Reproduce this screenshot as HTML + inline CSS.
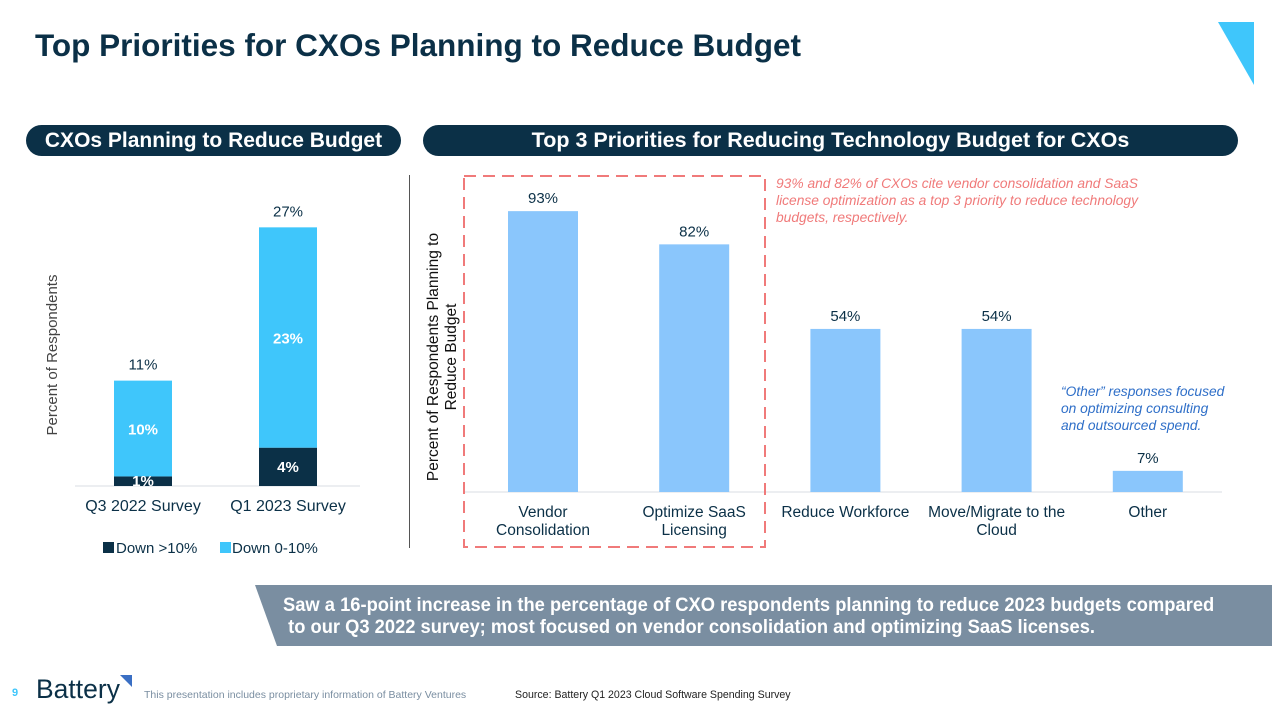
<!DOCTYPE html>
<html><head><meta charset="utf-8"><style>
body{margin:0;width:1272px;height:715px;background:#fff;font-family:"Liberation Sans",sans-serif;overflow:hidden;position:relative}
.abs{position:absolute}
.pill{position:absolute;background:#0b3047;color:#fff;font-weight:bold;font-size:21px;border-radius:16px;text-align:center;line-height:31px;height:31px}
</style></head><body>
<div class="abs" style="left:35px;top:27px;font-size:31.5px;font-weight:bold;color:#0b3047">Top Priorities for CXOs Planning to Reduce Budget</div>
<svg class="abs" style="left:1218px;top:22px" width="36" height="64"><polygon points="0,0 36,0 36,63" fill="#3fc6fb"/></svg>
<div class="pill" style="left:26px;top:125px;width:375px">CXOs Planning to Reduce Budget</div>
<div class="pill" style="left:423px;top:125px;width:815px;font-size:21.5px">Top 3 Priorities for Reducing Technology Budget for CXOs</div>
<svg class="abs" style="left:0;top:0" width="1272" height="715" id="chart"></svg>
<svg class="abs" style="left:255px;top:585px" width="1017" height="61"><polygon points="0,0 1017,0 1017,61 22,61" fill="#7a8ea1"/></svg>
<div class="abs" style="left:283px;top:595px;color:#fff;font-weight:bold;font-size:19px;line-height:22px;white-space:nowrap;transform:scaleX(0.965);transform-origin:left">Saw a 16-point increase in the percentage of CXO respondents planning to reduce 2023 budgets compared<br>&nbsp;to our Q3 2022 survey; most focused on vendor consolidation and optimizing SaaS licenses.</div>
<div class="abs" style="left:12px;top:687px;font-size:11px;color:#3fc6fb;font-weight:bold">9</div>
<div class="abs" style="left:36px;top:674px;font-size:26.5px;color:#0b3047">Battery</div>
<svg class="abs" style="left:120px;top:675px" width="13" height="13"><polygon points="0,0 12,0 12,12" fill="#3a6fc4"/></svg>
<div class="abs" style="left:144px;top:689px;font-size:10.5px;color:#7a8ea1">This presentation includes proprietary information of Battery Ventures</div>
<div class="abs" style="left:515px;top:689px;font-size:10.6px;color:#222">Source: Battery Q1 2023 Cloud Software Spending Survey</div>
<script>
const leftCats=["Q3 2022 Survey","Q1 2023 Survey"];
const leftDown10=[1,4];
const leftDown0=[10,23];
const leftTotals=[11,27];
const rightCats=[["Vendor","Consolidation"],["Optimize SaaS","Licensing"],["Reduce Workforce"],["Move/Migrate to the","Cloud"],["Other"]];
const rightVals=[93,82,54,54,7];
const NS="http://www.w3.org/2000/svg";
const svg=document.getElementById('chart');
function mk(tag,attrs,txt){const e=document.createElementNS(NS,tag);for(const k in attrs)e.setAttribute(k,attrs[k]);if(txt!==undefined)e.textContent=txt;svg.appendChild(e);return e;}
// left chart
const lBase=486,lScale=9.58;
const ly=v=>lBase-v*lScale;
const lx=i=>143+i*145;
let t=mk('line',{x1:75,x2:360,y1:lBase,y2:lBase,stroke:'#d9dde3','stroke-width':1});

leftCats.forEach((c,i)=>{
  const a=leftDown10[i],b=leftDown0[i];
  let r=mk('rect',{x:lx(i)-29,width:58,y:ly(a),height:a*lScale,fill:'#0b3047'});
  
  r=mk('rect',{x:lx(i)-29,width:58,y:ly(a+b),height:b*lScale,fill:'#3fc6fb'});
  
  let e=mk('text',{x:lx(i),y:ly(a/2)+5,'text-anchor':'middle',fill:'#fff','font-size':15,'font-weight':'bold'},a+'%');
  
  e=mk('text',{x:lx(i),y:ly(a+b/2)+6,'text-anchor':'middle',fill:'#fff','font-size':15,'font-weight':'bold'},b+'%');
  
  e=mk('text',{x:lx(i),y:ly(leftTotals[i])-11,'text-anchor':'middle',fill:'#0b3047','font-size':15},leftTotals[i]+'%');
  
  e=mk('text',{x:lx(i),y:lBase+25,'text-anchor':'middle',fill:'#0b3047','font-size':16},c);
  
});
t=mk('text',{x:0,y:0,transform:'translate(57,355) rotate(-90)','text-anchor':'middle',fill:'#444','font-size':15},'Percent of Respondents');

t=mk('rect',{x:103,y:542,width:11,height:11,fill:'#0b3047'});
t=mk('text',{x:116,y:553,fill:'#0b3047','font-size':15},'Down >10%');
t=mk('rect',{x:220,y:542,width:11,height:11,fill:'#3fc6fb'});
t=mk('text',{x:232,y:553,fill:'#0b3047','font-size':15},'Down 0-10%');
t=mk('line',{x1:409.5,x2:409.5,y1:175,y2:548,stroke:'#555','stroke-width':1});

// right chart
const rBase=492,rScale=3.02;
const ry=v=>rBase-v*rScale;
const rx=i=>543+i*151.2;
t=mk('line',{x1:465,x2:1222,y1:rBase,y2:rBase,stroke:'#d9dde3','stroke-width':1});

rightVals.forEach((v,i)=>{
  let r=mk('rect',{x:rx(i)-35,width:70,y:ry(v),height:v*rScale,fill:'#8ac6fc'});
  
  let e=mk('text',{x:rx(i),y:ry(v)-8,'text-anchor':'middle',fill:'#0b3047','font-size':15},v+'%');
  
  rightCats[i].forEach((ln,j)=>{
    e=mk('text',{x:rx(i),y:rBase+25+j*18,'text-anchor':'middle',fill:'#0b3047','font-size':15.5},ln);
    
  });
});
t=mk('text',{x:0,y:0,transform:'translate(438,357) rotate(-90)','text-anchor':'middle',fill:'#111','font-size':15.5},'Percent of Respondents Planning to');

t=mk('text',{x:0,y:0,transform:'translate(456,357) rotate(-90)','text-anchor':'middle',fill:'#111','font-size':15.5},'Reduce Budget');

t=mk('rect',{x:464,y:176,width:301,height:371,fill:'none',stroke:'#f07a7a','stroke-width':2,'stroke-dasharray':'12,7'});

["93% and 82% of CXOs cite vendor consolidation and SaaS","license optimization as a top 3 priority to reduce technology","budgets, respectively."].forEach((s,j)=>{
  const e=mk('text',{x:776,y:188+j*17,fill:'#f07a7a','font-size':13.8,'font-style':'italic'},s);
  
});
["\u201cOther\u201d responses focused","on optimizing consulting","and outsourced spend."].forEach((s,j)=>{
  const e=mk('text',{x:1061,y:396+j*17,fill:'#2f6fc8','font-size':13.8,'font-style':'italic'},s);
  
});
</script>
</body></html>
